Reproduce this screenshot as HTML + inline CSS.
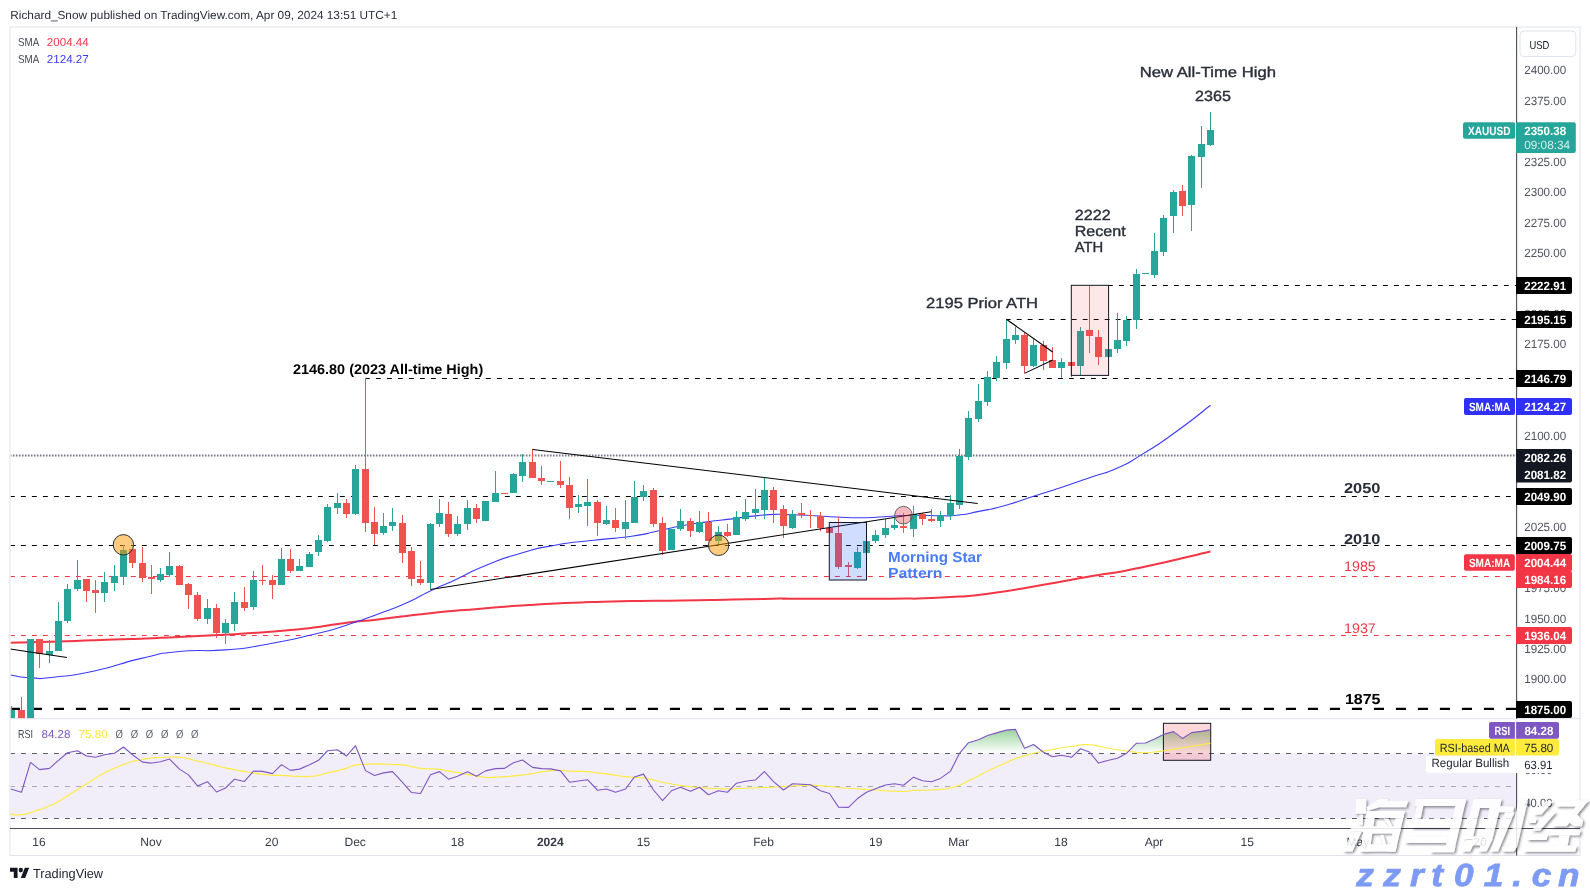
<!DOCTYPE html>
<html><head><meta charset="utf-8"><title>XAUUSD chart</title>
<style>
html,body{margin:0;padding:0;background:#fff;}
body{width:1590px;height:891px;overflow:hidden;font-family:"Liberation Sans", sans-serif;}
svg{display:block;position:absolute;left:0;top:0;font-family:"Liberation Sans", sans-serif;will-change:transform;}
text{text-rendering:geometricPrecision;}
</style></head><body>
<svg width="1590" height="891" viewBox="0 0 1590 891">
<rect x="0" y="0" width="1590" height="891" fill="#fff"/>
<defs>
<clipPath id="cm"><rect x="10.5" y="27.5" width="1505.5" height="691.0"/></clipPath>
<clipPath id="cr"><rect x="10.5" y="719" width="1505.5" height="109"/></clipPath>
<linearGradient id="gg" gradientUnits="userSpaceOnUse" x1="0" y1="712" x2="0" y2="753.5"><stop offset="0" stop-color="#4caf50" stop-opacity="0.95"/><stop offset="1" stop-color="#4caf50" stop-opacity="0"/></linearGradient>
<clipPath id="c70"><rect x="10.5" y="719" width="1505.5" height="34.5"/></clipPath>
</defs>
<g clip-path="url(#cr)">
<rect x="10.5" y="753.5" width="1505.5" height="65" fill="#7e57c2" fill-opacity="0.1"/>
<path d="M2.5 753.5 L2.5 786.98 L11.5 789.25 L21.5 792.26 L30.5 762.33 L39.5 769.62 L49.5 768.36 L58.5 760.31 L67.5 752.77 L77.5 750.75 L86.5 756.04 L95.5 757.3 L104.5 754.78 L114.5 753.27 L123.5 746.98 L132.5 754.78 L142.5 762.08 L151.5 763.08 L160.5 761.82 L169.5 759.06 L179.5 769.12 L188.5 774.91 L197.5 785.97 L207.5 781.7 L216.5 792.01 L225.5 787.99 L234.5 779.18 L244.5 781.45 L253.5 771.13 L262.5 771.38 L272.5 773.65 L281.5 764.59 L290.5 770.38 L299.5 769.12 L309.5 764.84 L318.5 760.31 L327.5 750.75 L337.5 749.75 L346.5 756.04 L355.5 745.72 L365.5 770.63 L374.5 775.41 L383.5 772.89 L392.5 771.64 L402.5 782.45 L411.5 792.52 L420.5 793.52 L430.5 774.65 L439.5 771.64 L448.5 779.18 L457.5 776.16 L467.5 771.64 L476.5 776.16 L485.5 770.88 L495.5 768.62 L504.5 768.36 L513.5 762.83 L522.5 760.06 L532.5 767.36 L541.5 768.62 L550.5 768.87 L560.5 770.88 L569.5 782.2 L578.5 780.94 L587.5 779.69 L597.5 790.25 L606.5 788.99 L615.5 792.26 L625.5 788.99 L634.5 776.92 L643.5 774.15 L653.5 790 L662.5 800.57 L671.5 790.75 L680.5 787.23 L690.5 791.26 L699.5 787.23 L708.5 794.78 L718.5 790.75 L727.5 792.26 L736.5 783.21 L745.5 781.19 L755.5 779.94 L764.5 771.64 L773.5 781.7 L783.5 790 L792.5 783.71 L801.5 784.21 L810.5 784.72 L820.5 790.75 L829.5 793.52 L838.5 807.11 L848.5 807.36 L857.5 798.55 L866.5 792.26 L875.5 788.74 L885.5 784.97 L894.5 783.71 L903.5 785.22 L913.5 777.17 L922.5 780.69 L931.5 781.7 L940.5 778.43 L950.5 771.13 L959.5 753.27 L968.5 742.7 L978.5 739.69 L987.5 735.41 L996.5 732.89 L1006.5 730.13 L1015.5 729.37 L1024.5 748.24 L1033.5 744.47 L1043.5 752.26 L1052.5 756.79 L1061.5 755.28 L1071.5 757.3 L1080.5 748.74 L1089.5 752.01 L1098.5 763.08 L1108.5 760.31 L1117.5 758.3 L1126.5 753.27 L1136.5 743.21 L1145.5 742.96 L1154.5 738.93 L1163.5 734.4 L1173.5 731.64 L1182.5 738.43 L1191.5 732.64 L1201.5 731.38 L1210.5 729.87 L1210.5 753.5 Z" fill="url(#gg)" clip-path="url(#c70)"/>
<line x1="10.5" y1="753.5" x2="1516.0" y2="753.5" stroke="#5a5e6a" stroke-width="1.1" stroke-dasharray="4.9 6.1" stroke-dashoffset="0.5"/>
<line x1="10.5" y1="786.5" x2="1516.0" y2="786.5" stroke="#a9acb6" stroke-width="1.1" stroke-dasharray="4.9 6.1" stroke-dashoffset="0.5"/>
<line x1="10.5" y1="818.5" x2="1516.0" y2="818.5" stroke="#5a5e6a" stroke-width="1.1" stroke-dasharray="4.9 6.1" stroke-dashoffset="0.5"/>
<rect x="1163.4" y="723.3" width="47.3" height="37" fill="#f23645" fill-opacity="0.2" stroke="#131722" stroke-width="1"/>
<path d="M10.06 813.9 C13.58 814.23 14 815.32 20.63 814.91 C27.25 814.49 23.82 814.32 29.94 812.64 C36.06 810.96 32.79 811.97 38.99 809.87 C45.2 807.78 42.26 809.04 48.55 806.35 C54.84 803.67 51.82 805.18 57.86 801.82 C63.9 798.47 60.38 800.23 66.67 796.29 C72.96 792.35 70.27 794.03 76.73 790 C83.19 785.97 79.92 788.07 86.04 784.21 C92.16 780.36 88.97 782.2 95.09 778.43 C101.22 774.65 98.2 776.16 104.4 772.89 C110.61 769.62 107.51 771.3 113.71 768.62 C119.92 765.93 116.9 767.19 123.02 764.84 C129.14 762.49 125.95 763.25 132.08 761.57 C138.2 759.9 135.09 760.99 141.38 759.81 C147.67 758.64 144.74 758.81 150.94 758.05 C157.15 757.3 153.88 757.88 160 757.55 C166.12 757.21 163.1 757.13 169.31 757.04 C175.51 756.96 172.41 756.79 178.62 757.3 C184.82 757.8 181.72 757.3 187.92 758.55 C194.13 759.81 191.03 759.56 197.23 761.07 C203.44 762.58 200.34 761.57 206.54 763.08 C212.75 764.59 209.64 764 215.85 765.6 C222.05 767.19 218.95 766.52 225.16 767.86 C231.36 769.2 228.34 768.45 234.47 769.62 C240.59 770.8 237.4 770.29 243.52 771.38 C249.64 772.47 246.62 771.97 252.83 772.89 C259.04 773.82 255.85 773.4 262.14 774.15 C268.43 774.91 265.41 774.74 271.7 775.16 C277.99 775.58 274.88 775.16 281.01 775.41 C287.13 775.66 283.94 775.58 290.06 775.91 C296.18 776.25 293.17 776.25 299.37 776.42 C305.58 776.58 302.47 776.75 308.68 776.42 C314.88 776.08 311.78 776.58 317.99 775.41 C324.19 774.23 321.09 774.4 327.3 772.89 C333.5 771.38 330.4 772.39 336.6 770.88 C342.81 769.37 339.71 770.29 345.91 768.36 C352.12 766.44 349.01 766.44 355.22 765.09 C361.43 763.75 358.32 764.76 364.53 764.34 C370.73 763.92 368.68 763.92 373.84 763.84 C378.99 763.75 370.57 763.75 380 764.09 C389.43 764.42 391.66 764 402.14 764.84 C412.62 765.68 405.24 765.43 411.45 766.6 C417.65 767.78 414.55 767.61 420.75 768.36 C426.96 769.12 423.86 768.53 430.06 768.87 C436.27 769.2 433.17 768.62 439.37 769.37 C445.58 770.13 442.47 770.04 448.68 771.13 C454.88 772.22 451.78 771.55 457.99 772.64 C464.19 773.73 461.09 773.31 467.3 774.4 C473.5 775.49 470.48 774.91 476.6 775.91 C482.73 776.92 479.54 777 485.66 777.42 C491.78 777.84 488.76 777.42 494.97 777.17 C501.17 776.92 498.07 777.09 504.28 776.67 C510.48 776.25 507.38 776.5 513.58 775.91 C519.79 775.32 516.69 775.66 522.89 774.91 C529.1 774.15 526 774.65 532.2 773.65 C538.41 772.64 535.3 772.89 541.51 771.89 C547.71 770.88 544.61 771.13 550.82 770.63 C557.02 770.13 553.92 770.21 560.13 770.38 C566.33 770.55 563.23 770.8 569.43 771.13 C575.64 771.47 572.54 771.22 578.74 771.38 C584.95 771.55 581.84 771.13 588.05 771.64 C594.26 772.14 591.15 772.14 597.36 772.89 C603.56 773.65 600.46 773.06 606.67 773.9 C612.87 774.74 609.77 774.49 615.97 775.41 C622.18 776.33 619.08 776 625.28 776.67 C631.49 777.34 628.47 777 634.59 777.42 C640.71 777.84 637.53 777.09 643.65 777.92 C649.77 778.76 646.75 778.51 652.96 779.94 C659.16 781.36 656.06 780.86 662.26 782.2 C668.47 783.54 665.37 782.87 671.57 783.96 C677.78 785.05 674.68 784.55 680.88 785.47 C687.09 786.39 683.98 786.06 690.19 786.73 C696.39 787.4 693.29 786.98 699.5 787.48 C705.7 787.99 702.6 787.82 708.81 788.24 C715.01 788.66 711.91 788.49 718.11 788.74 C724.32 788.99 721.22 788.99 727.42 788.99 C733.63 788.99 730.52 788.99 736.73 788.74 C742.94 788.49 739.92 788.57 746.04 788.24 C752.16 787.9 748.97 787.99 755.09 787.74 C761.22 787.48 758.2 787.65 764.4 787.48 C770.61 787.32 770.57 787.32 773.71 787.23 C776.86 787.15 770.69 787.48 773.84 787.23 C776.98 786.98 776.94 786.9 783.14 786.48 C789.35 786.06 786.25 786.31 792.45 785.97 C798.66 785.64 795.56 785.72 801.76 785.47 C807.97 785.22 804.86 785.14 811.07 785.22 C817.27 785.3 814.17 785.3 820.38 785.72 C826.58 786.14 823.48 785.89 829.69 786.48 C835.89 787.06 832.79 786.9 838.99 787.48 C845.2 788.07 842.18 787.82 848.3 788.24 C854.42 788.66 851.24 788.32 857.36 788.74 C863.48 789.16 860.46 789.08 866.67 789.5 C872.87 789.92 869.77 789.58 875.97 790 C882.18 790.42 879.08 790.34 885.28 790.75 C891.49 791.17 888.39 791.01 894.59 791.26 C900.8 791.51 897.69 791.76 903.9 791.51 C910.1 791.26 907 790.92 913.21 790.5 C919.41 790.08 916.31 790.5 922.52 790.25 C928.72 790 925.62 790.08 931.82 789.75 C938.03 789.41 934.93 789.83 941.13 789.25 C947.34 788.66 944.23 789.41 950.44 787.99 C956.65 786.56 953.54 787.48 959.75 784.97 C965.95 782.45 962.85 783.46 969.06 780.44 C975.26 777.42 972.24 779.01 978.36 775.91 C984.49 772.81 981.3 774.15 987.42 771.13 C993.54 768.11 990.52 769.62 996.73 766.86 C1002.94 764.09 999.83 765.6 1006.04 762.83 C1012.24 760.06 1009.14 760.9 1015.35 758.55 C1021.55 756.21 1018.45 757.55 1024.65 755.79 C1030.86 754.03 1027.76 754.78 1033.96 753.27 C1040.17 751.76 1037.06 752.52 1043.27 751.26 C1049.48 750 1046.37 750.67 1052.58 749.5 C1058.78 748.32 1055.68 748.74 1061.89 747.74 C1068.09 746.73 1064.99 747.4 1071.19 746.48 C1077.4 745.56 1074.3 745.56 1080.5 744.97 C1086.71 744.38 1083.61 744.3 1089.81 744.72 C1096.02 745.14 1092.96 745.05 1099.12 746.23 C1105.28 747.4 1102.14 747.06 1108.3 748.24 C1114.47 749.41 1111.4 748.83 1117.61 749.75 C1123.82 750.67 1120.71 750.17 1126.92 751.01 C1133.12 751.84 1130.02 751.68 1136.23 752.26 C1142.43 752.85 1139.33 752.85 1145.53 752.77 C1151.74 752.68 1148.64 752.68 1154.84 752.01 C1161.05 751.34 1157.95 751.68 1164.15 750.75 C1170.36 749.83 1167.25 750.25 1173.46 749.25 C1179.66 748.24 1176.56 748.74 1182.77 747.74 C1188.97 746.73 1185.95 747.23 1192.08 746.23 C1198.2 745.22 1195.01 745.72 1201.13 744.72 C1207.25 743.71 1207.34 743.71 1210.44 743.21" fill="none" stroke="#ffeb3b" stroke-width="1.1" stroke-linejoin="round"/>
<path d="M2.5 786.98 L11.5 789.25 L21.5 792.26 L30.5 762.33 L39.5 769.62 L49.5 768.36 L58.5 760.31 L67.5 752.77 L77.5 750.75 L86.5 756.04 L95.5 757.3 L104.5 754.78 L114.5 753.27 L123.5 746.98 L132.5 754.78 L142.5 762.08 L151.5 763.08 L160.5 761.82 L169.5 759.06 L179.5 769.12 L188.5 774.91 L197.5 785.97 L207.5 781.7 L216.5 792.01 L225.5 787.99 L234.5 779.18 L244.5 781.45 L253.5 771.13 L262.5 771.38 L272.5 773.65 L281.5 764.59 L290.5 770.38 L299.5 769.12 L309.5 764.84 L318.5 760.31 L327.5 750.75 L337.5 749.75 L346.5 756.04 L355.5 745.72 L365.5 770.63 L374.5 775.41 L383.5 772.89 L392.5 771.64 L402.5 782.45 L411.5 792.52 L420.5 793.52 L430.5 774.65 L439.5 771.64 L448.5 779.18 L457.5 776.16 L467.5 771.64 L476.5 776.16 L485.5 770.88 L495.5 768.62 L504.5 768.36 L513.5 762.83 L522.5 760.06 L532.5 767.36 L541.5 768.62 L550.5 768.87 L560.5 770.88 L569.5 782.2 L578.5 780.94 L587.5 779.69 L597.5 790.25 L606.5 788.99 L615.5 792.26 L625.5 788.99 L634.5 776.92 L643.5 774.15 L653.5 790 L662.5 800.57 L671.5 790.75 L680.5 787.23 L690.5 791.26 L699.5 787.23 L708.5 794.78 L718.5 790.75 L727.5 792.26 L736.5 783.21 L745.5 781.19 L755.5 779.94 L764.5 771.64 L773.5 781.7 L783.5 790 L792.5 783.71 L801.5 784.21 L810.5 784.72 L820.5 790.75 L829.5 793.52 L838.5 807.11 L848.5 807.36 L857.5 798.55 L866.5 792.26 L875.5 788.74 L885.5 784.97 L894.5 783.71 L903.5 785.22 L913.5 777.17 L922.5 780.69 L931.5 781.7 L940.5 778.43 L950.5 771.13 L959.5 753.27 L968.5 742.7 L978.5 739.69 L987.5 735.41 L996.5 732.89 L1006.5 730.13 L1015.5 729.37 L1024.5 748.24 L1033.5 744.47 L1043.5 752.26 L1052.5 756.79 L1061.5 755.28 L1071.5 757.3 L1080.5 748.74 L1089.5 752.01 L1098.5 763.08 L1108.5 760.31 L1117.5 758.3 L1126.5 753.27 L1136.5 743.21 L1145.5 742.96 L1154.5 738.93 L1163.5 734.4 L1173.5 731.64 L1182.5 738.43 L1191.5 732.64 L1201.5 731.38 L1210.5 729.87" fill="none" stroke="#7e57c2" stroke-width="1.1" stroke-linejoin="round"/>
</g>
<g clip-path="url(#cm)">
<line x1="10.5" y1="455.5" x2="1516" y2="455.5" stroke="#787b86" stroke-width="1.8" stroke-dasharray="1.6 1.4" stroke-dashoffset="0.6"/>
<line x1="10.5" y1="496.5" x2="1516" y2="496.5" stroke="#000" stroke-width="1.1" stroke-dasharray="4.9 6.1" stroke-dashoffset="0.6"/>
<line x1="10.5" y1="545.5" x2="1516" y2="545.5" stroke="#000" stroke-width="1.1" stroke-dasharray="4.9 6.1" stroke-dashoffset="0.6"/>
<line x1="10.5" y1="576.5" x2="1516" y2="576.5" stroke="#f23645" stroke-width="1.1" stroke-dasharray="4.9 6.1" stroke-dashoffset="0.6"/>
<line x1="10.5" y1="635.5" x2="1516" y2="635.5" stroke="#f23645" stroke-width="1.1" stroke-dasharray="4.9 6.1" stroke-dashoffset="0.6"/>
<line x1="10.5" y1="708.8" x2="1516" y2="708.8" stroke="#000" stroke-width="2.2" stroke-dasharray="10.1 11.9" stroke-dashoffset="0.6"/>
<line x1="365.5" y1="378.5" x2="1516" y2="378.5" stroke="#000" stroke-width="1.1" stroke-dasharray="4.9 6.1" stroke-dashoffset="0.6"/>
<line x1="1006.3" y1="319.5" x2="1516" y2="319.5" stroke="#000" stroke-width="1.1" stroke-dasharray="4.9 6.1" stroke-dashoffset="0.6"/>
<line x1="1108.5" y1="285.5" x2="1516" y2="285.5" stroke="#000" stroke-width="1.1" stroke-dasharray="4.9 6.1" stroke-dashoffset="0.6"/>
<path d="M10.4 642.7 C38.37 641.87 34.93 642.3 94.3 640.2 C153.67 638.1 125.67 639.57 188.5 636.4 C251.33 633.23 230.43 635.2 282.8 630.7 C335.17 626.2 313.2 626.73 345.6 622.9 C378 619.07 351.77 622.43 380 619.2 C408.23 615.97 396.77 616.7 430.3 613.2 C463.83 609.7 447.07 611.47 480.6 608.7 C514.13 605.93 497.33 607 530.9 604.9 C564.47 602.8 547.73 603.67 581.3 602.4 C614.87 601.13 598.07 601.7 631.6 601.1 C665.13 600.5 648.37 601.1 681.9 600.6 C715.43 600.1 699.5 600.27 732.2 599.6 C764.9 598.93 760.63 598.9 780 598.6 C799.37 598.3 770.1 598.67 790.3 598.7 C810.5 598.73 807.03 598.7 840.6 598.7 C874.17 598.7 857.43 599.1 891 598.7 C924.57 598.3 907.77 599.33 941.3 597.5 C974.83 595.67 958.07 597.4 991.6 593.2 C1025.13 589 1008.37 590.6 1041.9 584.9 C1075.43 579.2 1059.5 581.8 1092.2 576.1 C1124.9 570.4 1100.57 576 1140 567.8 C1179.43 559.6 1187 556.93 1210.5 551.5" fill="none" stroke="#f23645" stroke-width="2" stroke-linejoin="round"/>
<path d="M10.4 675 C17.4 675.97 17.07 677.17 31.4 677.9 C45.73 678.63 32.43 679.5 53.4 677.2 C74.37 674.9 64.97 677.27 94.3 671 C123.63 664.73 113.13 664.9 141.4 658.4 C169.67 651.9 151.13 654.33 179.1 651.5 C207.07 648.67 195.97 652.33 225.3 649.9 C254.63 647.47 237.47 649.43 267.1 644.2 C296.73 638.97 288.03 640.47 314.2 634.2 C340.37 627.93 324.67 632 345.6 625.4 C366.53 618.8 357.13 621.67 377 614.4 C396.87 607.13 387.43 611.4 405.2 603.6 C422.97 595.8 413.53 598.97 430.3 591 C447.07 583.03 437.03 588.23 455.5 579.7 C473.97 571.17 463.9 574.2 485.7 565.4 C507.5 556.6 497.43 560.1 520.9 553.3 C544.37 546.5 531.8 549.33 556.1 545 C580.4 540.67 568.63 543.23 593.8 540.3 C618.97 537.37 610.63 539.23 631.6 536.2 C652.57 533.17 639.93 534.7 656.7 531.2 C673.47 527.7 665.13 528.8 681.9 525.7 C698.67 522.6 690.23 524.17 707 521.9 C723.77 519.63 715.4 521 732.2 518.9 C749 516.8 741.47 517.13 757.4 515.6 C773.33 514.07 769.03 514.6 780 514.3 C790.97 514 778.47 514.23 790.3 514.7 C802.13 515.17 798.73 514.87 815.5 515.7 C832.27 516.53 823.83 516.53 840.6 517.2 C857.37 517.87 849 518.03 865.8 517.7 C882.6 517.37 874.23 517.03 891 516.2 C907.77 515.37 899.33 515.37 916.1 515.2 C932.87 515.03 927.03 515.77 941.3 515.7 C955.57 515.63 946.33 516.43 958.9 515 C971.47 513.57 963.9 514.5 979 511.4 C994.1 508.3 985.77 510.8 1004.2 505.7 C1022.63 500.6 1013.37 502.83 1034.3 496.1 C1055.23 489.37 1047.7 491.97 1067 485.5 C1086.3 479.03 1075.4 482.57 1092.2 476.7 C1109 470.83 1100.53 475.5 1117.4 467.9 C1134.27 460.3 1123.03 466.1 1142.8 453.9 C1162.57 441.7 1154.13 447.5 1176.7 431.3 C1199.27 415.1 1199.23 413.97 1210.5 405.3" fill="none" stroke="#3a3aff" stroke-width="1.1" stroke-linejoin="round"/>
<path d="M11 706h1V731h-1Z M8 710h7V731h-7Z" fill="#26a69a"/>
<path d="M21 697h1V731h-1Z M18 710h7V731h-7Z" fill="#ef5350"/>
<path d="M30 639h1V731h-1Z M27 639h7V731h-7Z" fill="#26a69a"/>
<path d="M39 639h1V668h-1Z M36 639h7V654h-7Z" fill="#ef5350"/>
<path d="M49 640h1V663h-1Z M46 651h7V655h-7Z" fill="#26a69a"/>
<path d="M58 602h1V651h-1Z M55 621h7V651h-7Z" fill="#26a69a"/>
<path d="M67 584h1V623h-1Z M64 589h7V621h-7Z" fill="#26a69a"/>
<path d="M77 560h1V591h-1Z M74 580h7V589h-7Z" fill="#26a69a"/>
<path d="M86 579h1V602h-1Z M83 579h7V591h-7Z" fill="#ef5350"/>
<path d="M95 580h1V613h-1Z M92 590h7V593h-7Z" fill="#ef5350"/>
<path d="M104 572h1V602h-1Z M101 582h7V593h-7Z" fill="#26a69a"/>
<path d="M114 565h1V591h-1Z M111 576h7V583h-7Z" fill="#26a69a"/>
<path d="M123 545h1V585h-1Z M120 550h7V577h-7Z" fill="#26a69a"/>
<path d="M132 549h1V568h-1Z M129 549h7V563h-7Z" fill="#ef5350"/>
<path d="M142 547h1V582h-1Z M139 563h7V578h-7Z" fill="#ef5350"/>
<path d="M151 565h1V594h-1Z M148 577h7V579h-7Z" fill="#ef5350"/>
<path d="M160 568h1V582h-1Z M157 574h7V580h-7Z" fill="#26a69a"/>
<path d="M169 552h1V577h-1Z M166 566h7V575h-7Z" fill="#26a69a"/>
<path d="M179 565h1V585h-1Z M176 566h7V585h-7Z" fill="#ef5350"/>
<path d="M188 583h1V609h-1Z M185 584h7V595h-7Z" fill="#ef5350"/>
<path d="M197 592h1V621h-1Z M194 595h7V619h-7Z" fill="#ef5350"/>
<path d="M207 599h1V624h-1Z M204 608h7V619h-7Z" fill="#26a69a"/>
<path d="M216 604h1V638h-1Z M213 608h7V633h-7Z" fill="#ef5350"/>
<path d="M225 619h1V644h-1Z M222 623h7V633h-7Z" fill="#26a69a"/>
<path d="M234 592h1V631h-1Z M231 602h7V624h-7Z" fill="#26a69a"/>
<path d="M244 587h1V611h-1Z M241 602h7V608h-7Z" fill="#ef5350"/>
<path d="M253 571h1V610h-1Z M250 580h7V607h-7Z" fill="#26a69a"/>
<path d="M262 565h1V585h-1Z M259 580h7V581h-7Z" fill="#ef5350"/>
<path d="M272 575h1V599h-1Z M269 580h7V585h-7Z" fill="#ef5350"/>
<path d="M281 548h1V585h-1Z M278 559h7V585h-7Z" fill="#26a69a"/>
<path d="M290 549h1V573h-1Z M287 559h7V571h-7Z" fill="#ef5350"/>
<path d="M299 559h1V571h-1Z M296 566h7V571h-7Z" fill="#26a69a"/>
<path d="M309 552h1V567h-1Z M306 554h7V567h-7Z" fill="#26a69a"/>
<path d="M318 535h1V556h-1Z M315 540h7V552h-7Z" fill="#26a69a"/>
<path d="M327 504h1V542h-1Z M324 507h7V541h-7Z" fill="#26a69a"/>
<path d="M337 493h1V514h-1Z M334 503h7V508h-7Z" fill="#26a69a"/>
<path d="M346 499h1V518h-1Z M343 503h7V514h-7Z" fill="#ef5350"/>
<path d="M355 465h1V515h-1Z M352 469h7V514h-7Z" fill="#26a69a"/>
<path d="M365 378h1V532h-1Z M362 469h7V523h-7Z" fill="#ef5350"/>
<path d="M374 507h1V545h-1Z M371 522h7V534h-7Z" fill="#ef5350"/>
<path d="M383 513h1V535h-1Z M380 526h7V533h-7Z" fill="#26a69a"/>
<path d="M392 508h1V531h-1Z M389 522h7V526h-7Z" fill="#26a69a"/>
<path d="M402 515h1V563h-1Z M399 523h7V553h-7Z" fill="#ef5350"/>
<path d="M411 547h1V586h-1Z M408 551h7V579h-7Z" fill="#ef5350"/>
<path d="M420 561h1V585h-1Z M417 579h7V583h-7Z" fill="#ef5350"/>
<path d="M430 523h1V589h-1Z M427 524h7V583h-7Z" fill="#26a69a"/>
<path d="M439 499h1V527h-1Z M436 513h7V524h-7Z" fill="#26a69a"/>
<path d="M448 502h1V537h-1Z M445 514h7V534h-7Z" fill="#ef5350"/>
<path d="M457 516h1V536h-1Z M454 524h7V534h-7Z" fill="#26a69a"/>
<path d="M467 500h1V530h-1Z M464 508h7V524h-7Z" fill="#26a69a"/>
<path d="M476 504h1V523h-1Z M473 508h7V519h-7Z" fill="#ef5350"/>
<path d="M485 501h1V521h-1Z M482 501h7V521h-7Z" fill="#26a69a"/>
<path d="M495 471h1V502h-1Z M492 493h7V502h-7Z" fill="#26a69a"/>
<path d="M504 493h1V494h-1Z M501 493h7V494h-7Z" fill="#ef5350"/>
<path d="M513 473h1V493h-1Z M510 474h7V493h-7Z" fill="#26a69a"/>
<path d="M522 454h1V482h-1Z M519 462h7V476h-7Z" fill="#26a69a"/>
<path d="M532 449h1V478h-1Z M529 462h7V478h-7Z" fill="#ef5350"/>
<path d="M541 466h1V485h-1Z M538 478h7V481h-7Z" fill="#ef5350"/>
<path d="M550 481h1V482h-1Z M547 481h7V482h-7Z" fill="#26a69a"/>
<path d="M560 461h1V488h-1Z M557 481h7V485h-7Z" fill="#ef5350"/>
<path d="M569 477h1V519h-1Z M566 485h7V508h-7Z" fill="#ef5350"/>
<path d="M578 495h1V513h-1Z M575 504h7V507h-7Z" fill="#26a69a"/>
<path d="M587 479h1V526h-1Z M584 502h7V506h-7Z" fill="#26a69a"/>
<path d="M597 500h1V536h-1Z M594 502h7V523h-7Z" fill="#ef5350"/>
<path d="M606 506h1V525h-1Z M603 520h7V524h-7Z" fill="#26a69a"/>
<path d="M615 508h1V532h-1Z M612 520h7V528h-7Z" fill="#ef5350"/>
<path d="M625 500h1V539h-1Z M622 522h7V529h-7Z" fill="#26a69a"/>
<path d="M634 481h1V523h-1Z M631 497h7V523h-7Z" fill="#26a69a"/>
<path d="M643 485h1V501h-1Z M640 491h7V497h-7Z" fill="#26a69a"/>
<path d="M653 488h1V527h-1Z M650 490h7V524h-7Z" fill="#ef5350"/>
<path d="M662 517h1V555h-1Z M659 523h7V551h-7Z" fill="#ef5350"/>
<path d="M671 529h1V550h-1Z M668 529h7V550h-7Z" fill="#26a69a"/>
<path d="M680 509h1V531h-1Z M677 521h7V529h-7Z" fill="#26a69a"/>
<path d="M690 518h1V537h-1Z M687 521h7V531h-7Z" fill="#ef5350"/>
<path d="M699 511h1V533h-1Z M696 522h7V532h-7Z" fill="#26a69a"/>
<path d="M708 512h1V541h-1Z M705 522h7V541h-7Z" fill="#ef5350"/>
<path d="M718 526h1V546h-1Z M715 532h7V541h-7Z" fill="#26a69a"/>
<path d="M727 524h1V537h-1Z M724 532h7V536h-7Z" fill="#ef5350"/>
<path d="M736 511h1V535h-1Z M733 517h7V535h-7Z" fill="#26a69a"/>
<path d="M745 499h1V521h-1Z M742 512h7V519h-7Z" fill="#26a69a"/>
<path d="M755 489h1V519h-1Z M752 509h7V513h-7Z" fill="#26a69a"/>
<path d="M764 478h1V519h-1Z M761 490h7V510h-7Z" fill="#26a69a"/>
<path d="M773 487h1V523h-1Z M770 490h7V510h-7Z" fill="#ef5350"/>
<path d="M783 505h1V538h-1Z M780 509h7V526h-7Z" fill="#ef5350"/>
<path d="M792 510h1V529h-1Z M789 514h7V528h-7Z" fill="#26a69a"/>
<path d="M801 503h1V518h-1Z M798 513h7V515h-7Z" fill="#ef5350"/>
<path d="M810 510h1V528h-1Z M807 515h7V516h-7Z" fill="#ef5350"/>
<path d="M820 512h1V531h-1Z M817 516h7V528h-7Z" fill="#ef5350"/>
<path d="M829 528h1V533h-1Z M826 528h7V533h-7Z" fill="#ef5350"/>
<path d="M838 517h1V569h-1Z M835 533h7V567h-7Z" fill="#ef5350"/>
<path d="M848 562h1V576h-1Z M845 565h7V567h-7Z" fill="#ef5350"/>
<path d="M857 547h1V569h-1Z M854 552h7V568h-7Z" fill="#26a69a"/>
<path d="M866 541h1V553h-1Z M863 541h7V553h-7Z" fill="#26a69a"/>
<path d="M875 530h1V543h-1Z M872 535h7V541h-7Z" fill="#26a69a"/>
<path d="M885 519h1V538h-1Z M882 528h7V535h-7Z" fill="#26a69a"/>
<path d="M894 518h1V530h-1Z M891 525h7V528h-7Z" fill="#26a69a"/>
<path d="M903 513h1V533h-1Z M900 526h7V528h-7Z" fill="#ef5350"/>
<path d="M913 506h1V537h-1Z M910 514h7V529h-7Z" fill="#26a69a"/>
<path d="M922 513h1V525h-1Z M919 514h7V519h-7Z" fill="#ef5350"/>
<path d="M931 509h1V522h-1Z M928 519h7V521h-7Z" fill="#ef5350"/>
<path d="M940 511h1V527h-1Z M937 515h7V521h-7Z" fill="#26a69a"/>
<path d="M950 495h1V520h-1Z M947 503h7V516h-7Z" fill="#26a69a"/>
<path d="M959 449h1V509h-1Z M956 456h7V505h-7Z" fill="#26a69a"/>
<path d="M968 411h1V460h-1Z M965 418h7V457h-7Z" fill="#26a69a"/>
<path d="M978 384h1V422h-1Z M975 401h7V419h-7Z" fill="#26a69a"/>
<path d="M987 371h1V406h-1Z M984 377h7V402h-7Z" fill="#26a69a"/>
<path d="M996 356h1V381h-1Z M993 362h7V378h-7Z" fill="#26a69a"/>
<path d="M1006 319h1V369h-1Z M1003 339h7V363h-7Z" fill="#26a69a"/>
<path d="M1015 327h1V344h-1Z M1012 335h7V340h-7Z" fill="#26a69a"/>
<path d="M1024 333h1V373h-1Z M1021 335h7V366h-7Z" fill="#ef5350"/>
<path d="M1033 339h1V367h-1Z M1030 345h7V366h-7Z" fill="#26a69a"/>
<path d="M1043 341h1V370h-1Z M1040 345h7V361h-7Z" fill="#ef5350"/>
<path d="M1052 347h1V368h-1Z M1049 360h7V368h-7Z" fill="#ef5350"/>
<path d="M1061 358h1V378h-1Z M1058 362h7V368h-7Z" fill="#26a69a"/>
<path d="M1071 362h1V377h-1Z M1068 362h7V366h-7Z" fill="#ef5350"/>
<path d="M1080 327h1V375h-1Z M1077 331h7V366h-7Z" fill="#26a69a"/>
<path d="M1089 286h1V353h-1Z M1086 330h7V336h-7Z" fill="#ef5350"/>
<path d="M1098 330h1V365h-1Z M1095 337h7V357h-7Z" fill="#ef5350"/>
<path d="M1108 349h1V357h-1Z M1105 349h7V357h-7Z" fill="#26a69a"/>
<path d="M1117 313h1V353h-1Z M1114 340h7V349h-7Z" fill="#26a69a"/>
<path d="M1126 316h1V346h-1Z M1123 320h7V341h-7Z" fill="#26a69a"/>
<path d="M1136 269h1V329h-1Z M1133 274h7V320h-7Z" fill="#26a69a"/>
<path d="M1145 273h1V274h-1Z M1142 273h7V274h-7Z" fill="#26a69a"/>
<path d="M1154 233h1V278h-1Z M1151 251h7V275h-7Z" fill="#26a69a"/>
<path d="M1163 215h1V256h-1Z M1160 218h7V252h-7Z" fill="#26a69a"/>
<path d="M1173 190h1V233h-1Z M1170 192h7V216h-7Z" fill="#26a69a"/>
<path d="M1182 185h1V216h-1Z M1179 191h7V206h-7Z" fill="#ef5350"/>
<path d="M1191 155h1V231h-1Z M1188 156h7V205h-7Z" fill="#26a69a"/>
<path d="M1201 126h1V188h-1Z M1198 144h7V157h-7Z" fill="#26a69a"/>
<path d="M1210 112h1V146h-1Z M1207 130h7V145h-7Z" fill="#26a69a"/>
<line x1="532.5" y1="449.4" x2="977.7" y2="503.4" stroke="#000" stroke-width="1.05"/>
<line x1="430.3" y1="589.4" x2="931.2" y2="511.8" stroke="#000" stroke-width="1.05"/>
<line x1="10" y1="649" x2="67" y2="657.4" stroke="#000" stroke-width="1.05"/>
<line x1="1006.4" y1="319.3" x2="1052.7" y2="352" stroke="#000" stroke-width="1.05"/>
<line x1="1024.5" y1="373.4" x2="1052.7" y2="360" stroke="#000" stroke-width="1.05"/>
<rect x="829.3" y="522.5" width="37.2" height="57.5" fill="#2962ff" fill-opacity="0.22" stroke="#131722" stroke-width="1"/>
<rect x="1071.3" y="285.3" width="37.3" height="90.1" fill="#f23645" fill-opacity="0.12" stroke="#131722" stroke-width="1"/>
<circle cx="123.4" cy="544.8" r="10.2" fill="#ff9800" fill-opacity="0.5" stroke="#2a2e39" stroke-width="1"/>
<circle cx="718.6" cy="545.3" r="10.2" fill="#ff9800" fill-opacity="0.5" stroke="#2a2e39" stroke-width="1"/>
<circle cx="903.5" cy="515.2" r="8.8" fill="#f23645" fill-opacity="0.35" stroke="#5d606b" stroke-width="1"/>
<text x="293" y="374" font-size="14" fill="#000" font-weight="bold" textLength="190.2" lengthAdjust="spacingAndGlyphs" >2146.80 (2023 All-time High)</text>
<text x="926" y="307.7" font-size="14.6" fill="#2a2e39" stroke="#2a2e39" stroke-width="0.38" stroke-linejoin="round" textLength="112" lengthAdjust="spacingAndGlyphs" >2195 Prior ATH</text>
<text x="1139.8" y="76.8" font-size="14.6" fill="#2a2e39" stroke="#2a2e39" stroke-width="0.38" stroke-linejoin="round" textLength="136.1" lengthAdjust="spacingAndGlyphs" >New All-Time High</text>
<text x="1195" y="100.9" font-size="14.6" fill="#2a2e39" stroke="#2a2e39" stroke-width="0.38" stroke-linejoin="round" textLength="35.9" lengthAdjust="spacingAndGlyphs" >2365</text>
<text x="1074.7" y="220.2" font-size="14.6" fill="#2a2e39" stroke="#2a2e39" stroke-width="0.38" stroke-linejoin="round" textLength="36" lengthAdjust="spacingAndGlyphs" >2222</text>
<text x="1074.7" y="236.2" font-size="14.6" fill="#2a2e39" stroke="#2a2e39" stroke-width="0.38" stroke-linejoin="round" textLength="51" lengthAdjust="spacingAndGlyphs" >Recent</text>
<text x="1074.7" y="252.1" font-size="14.6" fill="#2a2e39" stroke="#2a2e39" stroke-width="0.38" stroke-linejoin="round" textLength="28.5" lengthAdjust="spacingAndGlyphs" >ATH</text>
<text x="888" y="561.8" font-size="14.6" fill="#4a7cfa" font-weight="bold" textLength="94" lengthAdjust="spacingAndGlyphs" >Morning Star</text>
<text x="888" y="577.8" font-size="14.6" fill="#4a7cfa" font-weight="bold" textLength="54.5" lengthAdjust="spacingAndGlyphs" >Pattern</text>
<text x="1344" y="493" font-size="14.5" fill="#2a2e39" font-weight="bold" textLength="36.5" lengthAdjust="spacingAndGlyphs" >2050</text>
<text x="1344" y="543.5" font-size="14.5" fill="#2a2e39" font-weight="bold" textLength="36.5" lengthAdjust="spacingAndGlyphs" >2010</text>
<text x="1344" y="571" font-size="14" fill="#f23645" textLength="31.8" lengthAdjust="spacingAndGlyphs" >1985</text>
<text x="1344" y="632.7" font-size="14" fill="#f23645" textLength="31.8" lengthAdjust="spacingAndGlyphs" >1937</text>
<text x="1344.9" y="703.7" font-size="14.5" fill="#000" font-weight="bold" textLength="35.6" lengthAdjust="spacingAndGlyphs" >1875</text>
</g>
<text x="18" y="45.5" font-size="11.5" fill="#434651" textLength="21.2" lengthAdjust="spacingAndGlyphs" >SMA</text>
<text x="46.8" y="45.5" font-size="11.5" fill="#f23645" textLength="41.9" lengthAdjust="spacingAndGlyphs" >2004.44</text>
<text x="18" y="62.5" font-size="11.5" fill="#434651" textLength="21.2" lengthAdjust="spacingAndGlyphs" >SMA</text>
<text x="46.8" y="62.5" font-size="11.5" fill="#3a3aff" textLength="41.9" lengthAdjust="spacingAndGlyphs" >2124.27</text>
<text x="18" y="737.6" font-size="11.5" fill="#434651" textLength="15" lengthAdjust="spacingAndGlyphs" >RSI</text>
<text x="41.5" y="737.6" font-size="11.5" fill="#7e57c2" textLength="28.9" lengthAdjust="spacingAndGlyphs" >84.28</text>
<text x="78.5" y="737.6" font-size="11.5" fill="#ffe838" textLength="29.2" lengthAdjust="spacingAndGlyphs" >75.80</text>
<text x="115.6" y="737.6" font-size="11.5" fill="#5d606b" textLength="7.4" lengthAdjust="spacingAndGlyphs" >&#216;</text>
<text x="130.7" y="737.6" font-size="11.5" fill="#5d606b" textLength="7.4" lengthAdjust="spacingAndGlyphs" >&#216;</text>
<text x="145.8" y="737.6" font-size="11.5" fill="#5d606b" textLength="7.4" lengthAdjust="spacingAndGlyphs" >&#216;</text>
<text x="160.9" y="737.6" font-size="11.5" fill="#5d606b" textLength="7.4" lengthAdjust="spacingAndGlyphs" >&#216;</text>
<text x="176" y="737.6" font-size="11.5" fill="#5d606b" textLength="7.4" lengthAdjust="spacingAndGlyphs" >&#216;</text>
<text x="191.1" y="737.6" font-size="11.5" fill="#5d606b" textLength="7.4" lengthAdjust="spacingAndGlyphs" >&#216;</text>
<text x="10.3" y="18.9" font-size="11.7" fill="#2a2e39" textLength="387" lengthAdjust="spacingAndGlyphs" >Richard_Snow published on TradingView.com, Apr 09, 2024 13:51 UTC+1</text>
<rect x="10" y="27" width="1570" height="828.5" fill="none" stroke="#e0e3eb" stroke-width="1"/>
<line x1="10" y1="718.7" x2="1580" y2="718.7" stroke="#e0e3eb" stroke-width="1"/>
<line x1="10" y1="828.5" x2="1580" y2="828.5" stroke="#4a4e59" stroke-width="1"/>
<line x1="1516.6" y1="27" x2="1516.6" y2="855.5" stroke="#4a4e59" stroke-width="1.1"/>
<text x="1524.2" y="683.45" font-size="12" fill="#50535e" textLength="42.1" lengthAdjust="spacingAndGlyphs" >1900.00</text>
<text x="1524.2" y="652.99" font-size="12" fill="#50535e" textLength="42.1" lengthAdjust="spacingAndGlyphs" >1925.00</text>
<text x="1524.2" y="622.52" font-size="12" fill="#50535e" textLength="42.1" lengthAdjust="spacingAndGlyphs" >1950.00</text>
<text x="1524.2" y="592.06" font-size="12" fill="#50535e" textLength="42.1" lengthAdjust="spacingAndGlyphs" >1975.00</text>
<text x="1524.2" y="561.6" font-size="12" fill="#50535e" textLength="42.1" lengthAdjust="spacingAndGlyphs" >2000.00</text>
<text x="1524.2" y="531.14" font-size="12" fill="#50535e" textLength="42.1" lengthAdjust="spacingAndGlyphs" >2025.00</text>
<text x="1524.2" y="500.68" font-size="12" fill="#50535e" textLength="42.1" lengthAdjust="spacingAndGlyphs" >2050.00</text>
<text x="1524.2" y="470.21" font-size="12" fill="#50535e" textLength="42.1" lengthAdjust="spacingAndGlyphs" >2075.00</text>
<text x="1524.2" y="439.75" font-size="12" fill="#50535e" textLength="42.1" lengthAdjust="spacingAndGlyphs" >2100.00</text>
<text x="1524.2" y="409.29" font-size="12" fill="#50535e" textLength="42.1" lengthAdjust="spacingAndGlyphs" >2125.00</text>
<text x="1524.2" y="378.82" font-size="12" fill="#50535e" textLength="42.1" lengthAdjust="spacingAndGlyphs" >2150.00</text>
<text x="1524.2" y="348.36" font-size="12" fill="#50535e" textLength="42.1" lengthAdjust="spacingAndGlyphs" >2175.00</text>
<text x="1524.2" y="317.9" font-size="12" fill="#50535e" textLength="42.1" lengthAdjust="spacingAndGlyphs" >2200.00</text>
<text x="1524.2" y="287.44" font-size="12" fill="#50535e" textLength="42.1" lengthAdjust="spacingAndGlyphs" >2225.00</text>
<text x="1524.2" y="256.97" font-size="12" fill="#50535e" textLength="42.1" lengthAdjust="spacingAndGlyphs" >2250.00</text>
<text x="1524.2" y="226.51" font-size="12" fill="#50535e" textLength="42.1" lengthAdjust="spacingAndGlyphs" >2275.00</text>
<text x="1524.2" y="196.05" font-size="12" fill="#50535e" textLength="42.1" lengthAdjust="spacingAndGlyphs" >2300.00</text>
<text x="1524.2" y="165.59" font-size="12" fill="#50535e" textLength="42.1" lengthAdjust="spacingAndGlyphs" >2325.00</text>
<text x="1524.2" y="135.12" font-size="12" fill="#50535e" textLength="42.1" lengthAdjust="spacingAndGlyphs" >2350.00</text>
<text x="1524.2" y="104.66" font-size="12" fill="#50535e" textLength="42.1" lengthAdjust="spacingAndGlyphs" >2375.00</text>
<text x="1524.2" y="74.2" font-size="12" fill="#50535e" textLength="42.1" lengthAdjust="spacingAndGlyphs" >2400.00</text>
<text x="1524.4" y="807.1" font-size="12" fill="#50535e" textLength="28" lengthAdjust="spacingAndGlyphs" >40.00</text>
<text x="1524.4" y="774.3" font-size="12" fill="#50535e" textLength="28" lengthAdjust="spacingAndGlyphs" >60.00</text>
<rect x="1520" y="31" width="55.8" height="25.6" rx="4" fill="#fff" stroke="#e0e3eb" stroke-width="1"/>
<text x="1529.4" y="49.2" font-size="11.5" fill="#131722" textLength="19.8" lengthAdjust="spacingAndGlyphs" >USD</text>
<path d="M1465 122.2 H1513.2 Q1515.2 122.2 1515.2 124.2 V136.7 Q1515.2 138.7 1513.2 138.7 H1465 Q1463 138.7 1463 136.7 V124.2 Q1463 122.2 1465 122.2 Z" fill="#26a69a"/>
<text x="1468" y="134.8" font-size="12" fill="#fff" font-weight="bold" textLength="42.5" lengthAdjust="spacingAndGlyphs" >XAUUSD</text>
<path d="M1516 122.2 H1573.8 Q1575.8 122.2 1575.8 124.2 V150.9 Q1575.8 152.9 1573.8 152.9 H1516 Q1516 152.9 1516 152.9 V122.2 Q1516 122.2 1516 122.2 Z" fill="#26a69a"/>
<text x="1524.2" y="134.8" font-size="12" fill="#fff" font-weight="bold" textLength="41.9" lengthAdjust="spacingAndGlyphs" >2350.38</text>
<text x="1524.2" y="148.9" font-size="12" fill="#d4edea" textLength="46" lengthAdjust="spacingAndGlyphs" >09:08:34</text>
<path d="M1516 277 H1570 Q1572 277 1572 279 V292 Q1572 294 1570 294 H1516 Q1516 294 1516 294 V277 Q1516 277 1516 277 Z" fill="#000"/>
<text x="1524.2" y="289.7" font-size="12" fill="#fff" font-weight="bold" textLength="41.9" lengthAdjust="spacingAndGlyphs" >2222.91</text>
<path d="M1516 311 H1570 Q1572 311 1572 313 V326 Q1572 328 1570 328 H1516 Q1516 328 1516 328 V311 Q1516 311 1516 311 Z" fill="#000"/>
<text x="1524.2" y="323.7" font-size="12" fill="#fff" font-weight="bold" textLength="41.9" lengthAdjust="spacingAndGlyphs" >2195.15</text>
<path d="M1516 370 H1570 Q1572 370 1572 372 V385 Q1572 387 1570 387 H1516 Q1516 387 1516 387 V370 Q1516 370 1516 370 Z" fill="#000"/>
<text x="1524.2" y="382.7" font-size="12" fill="#fff" font-weight="bold" textLength="41.9" lengthAdjust="spacingAndGlyphs" >2146.79</text>
<path d="M1466 398 H1513 Q1515 398 1515 400 V413 Q1515 415 1513 415 H1466 Q1464 415 1464 413 V400 Q1464 398 1466 398 Z" fill="#3030fc"/>
<text x="1468.9" y="410.7" font-size="12" fill="#fff" font-weight="bold" textLength="41.3" lengthAdjust="spacingAndGlyphs" >SMA:MA</text>
<path d="M1516 398 H1570 Q1572 398 1572 400 V413 Q1572 415 1570 415 H1516 Q1516 415 1516 415 V398 Q1516 398 1516 398 Z" fill="#3030fc"/>
<text x="1524.2" y="410.7" font-size="12" fill="#fff" font-weight="bold" textLength="41.9" lengthAdjust="spacingAndGlyphs" >2124.27</text>
<path d="M1516 449 H1570 Q1572 449 1572 451 V480.6 Q1572 482.6 1570 482.6 H1516 Q1516 482.6 1516 482.6 V449 Q1516 449 1516 449 Z" fill="#131722"/>
<text x="1524.2" y="461.8" font-size="12" fill="#fff" font-weight="bold" textLength="41.9" lengthAdjust="spacingAndGlyphs" >2082.26</text>
<text x="1524.2" y="478.6" font-size="12" fill="#fff" font-weight="bold" textLength="41.9" lengthAdjust="spacingAndGlyphs" >2081.82</text>
<path d="M1516 488 H1570 Q1572 488 1572 490 V503 Q1572 505 1570 505 H1516 Q1516 505 1516 505 V488 Q1516 488 1516 488 Z" fill="#000"/>
<text x="1524.2" y="500.7" font-size="12" fill="#fff" font-weight="bold" textLength="41.9" lengthAdjust="spacingAndGlyphs" >2049.90</text>
<path d="M1516 537 H1570 Q1572 537 1572 539 V552 Q1572 554 1570 554 H1516 Q1516 554 1516 554 V537 Q1516 537 1516 537 Z" fill="#000"/>
<text x="1524.2" y="549.7" font-size="12" fill="#fff" font-weight="bold" textLength="41.9" lengthAdjust="spacingAndGlyphs" >2009.75</text>
<path d="M1466 554.2 H1512.8 Q1514.8 554.2 1514.8 556.2 V568.8 Q1514.8 570.8 1512.8 570.8 H1466 Q1464 570.8 1464 568.8 V556.2 Q1464 554.2 1466 554.2 Z" fill="#f23645"/>
<text x="1468.9" y="567" font-size="12" fill="#fff" font-weight="bold" textLength="41.3" lengthAdjust="spacingAndGlyphs" >SMA:MA</text>
<path d="M1516 554 H1570 Q1572 554 1572 556 V569.5 Q1572 571.5 1570 571.5 H1516 Q1516 571.5 1516 571.5 V554 Q1516 554 1516 554 Z" fill="#f23645"/>
<text x="1524.2" y="566.95" font-size="12" fill="#fff" font-weight="bold" textLength="41.9" lengthAdjust="spacingAndGlyphs" >2004.44</text>
<path d="M1516 571 H1570 Q1572 571 1572 573 V586 Q1572 588 1570 588 H1516 Q1516 588 1516 588 V571 Q1516 571 1516 571 Z" fill="#f23645"/>
<text x="1524.2" y="583.7" font-size="12" fill="#fff" font-weight="bold" textLength="41.9" lengthAdjust="spacingAndGlyphs" >1984.16</text>
<path d="M1516 627 H1570 Q1572 627 1572 629 V642 Q1572 644 1570 644 H1516 Q1516 644 1516 644 V627 Q1516 627 1516 627 Z" fill="#f23645"/>
<text x="1524.2" y="639.7" font-size="12" fill="#fff" font-weight="bold" textLength="41.9" lengthAdjust="spacingAndGlyphs" >1936.04</text>
<path d="M1516 701 H1570 Q1572 701 1572 703 V716 Q1572 718 1570 718 H1516 Q1516 718 1516 718 V701 Q1516 701 1516 701 Z" fill="#000"/>
<text x="1524.2" y="713.7" font-size="12" fill="#fff" font-weight="bold" textLength="41.9" lengthAdjust="spacingAndGlyphs" >1875.00</text>
<rect x="1514.9" y="718.9" width="2.4" height="54.1" fill="#fff"/>
<path d="M1491 722 H1514.9 Q1514.9 722 1514.9 722 V738.8 Q1514.9 738.8 1514.9 738.8 H1491 Q1489 738.8 1489 736.8 V724 Q1489 722 1491 722 Z" fill="#7e57c2"/>
<text x="1494.5" y="734.8" font-size="12" fill="#fff" font-weight="bold" textLength="15.5" lengthAdjust="spacingAndGlyphs" >RSI</text>
<path d="M1516.1 722 H1557 Q1559 722 1559 724 V736.8 Q1559 738.8 1557 738.8 H1516.1 Q1516.1 738.8 1516.1 738.8 V722 Q1516.1 722 1516.1 722 Z" fill="#7e57c2"/>
<text x="1524.4" y="734.8" font-size="12" fill="#fff" font-weight="bold" textLength="29" lengthAdjust="spacingAndGlyphs" >84.28</text>
<path d="M1437 739.1 H1514.9 Q1514.9 739.1 1514.9 739.1 V755.6 Q1514.9 755.6 1514.9 755.6 H1437 Q1435 755.6 1435 753.6 V741.1 Q1435 739.1 1437 739.1 Z" fill="#ffeb3b"/>
<text x="1439.8" y="751.9" font-size="12" fill="#1c2030" textLength="70" lengthAdjust="spacingAndGlyphs" >RSI-based MA</text>
<path d="M1516.1 739.1 H1557 Q1559 739.1 1559 741.1 V753.6 Q1559 755.6 1557 755.6 H1516.1 Q1516.1 755.6 1516.1 755.6 V739.1 Q1516.1 739.1 1516.1 739.1 Z" fill="#ffeb3b"/>
<text x="1524.3" y="751.9" font-size="12" fill="#1c2030" textLength="29" lengthAdjust="spacingAndGlyphs" >75.80</text>
<path d="M1428 756.1 H1514.9 Q1514.9 756.1 1514.9 756.1 V773 Q1514.9 773 1514.9 773 H1428 Q1426 773 1426 771 V758.1 Q1426 756.1 1428 756.1 Z" fill="#fff"/>
<text x="1431.5" y="767.3" font-size="12" fill="#1c2030" textLength="77.8" lengthAdjust="spacingAndGlyphs" >Regular Bullish</text>
<path d="M1516.1 756.1 H1557 Q1559 756.1 1559 758.1 V771 Q1559 773 1557 773 H1516.1 Q1516.1 773 1516.1 773 V756.1 Q1516.1 756.1 1516.1 756.1 Z" fill="#fff"/>
<text x="1524.3" y="768.7" font-size="12" fill="#1c2030" textLength="28.3" lengthAdjust="spacingAndGlyphs" >63.91</text>
<text x="39" y="846" font-size="12" fill="#363a45" text-anchor="middle" >16</text>
<text x="151" y="846" font-size="12" fill="#363a45" text-anchor="middle" >Nov</text>
<text x="271.7" y="846" font-size="12" fill="#363a45" text-anchor="middle" >20</text>
<text x="355.2" y="846" font-size="12" fill="#363a45" text-anchor="middle" >Dec</text>
<text x="457.5" y="846" font-size="12" fill="#363a45" text-anchor="middle" >18</text>
<text x="550.3" y="846" font-size="12" fill="#363a45" font-weight="bold" text-anchor="middle" >2024</text>
<text x="643.4" y="846" font-size="12" fill="#363a45" text-anchor="middle" >15</text>
<text x="763.6" y="846" font-size="12" fill="#363a45" text-anchor="middle" >Feb</text>
<text x="875.7" y="846" font-size="12" fill="#363a45" text-anchor="middle" >19</text>
<text x="958.7" y="846" font-size="12" fill="#363a45" text-anchor="middle" >Mar</text>
<text x="1061" y="846" font-size="12" fill="#363a45" text-anchor="middle" >18</text>
<text x="1154" y="846" font-size="12" fill="#363a45" text-anchor="middle" >Apr</text>
<text x="1247.2" y="846" font-size="12" fill="#363a45" text-anchor="middle" >15</text>
<text x="1357.9" y="846" font-size="12" fill="#363a45" text-anchor="middle" >May</text>
<text x="1479.9" y="846" font-size="12" fill="#363a45" text-anchor="middle" >20</text>
<g transform="translate(10,865.6) scale(0.54,0.565)" fill="#131722"><path d="M14 22H7V11H0V4h14v18zM28 22h-8l7.5-18h8L28 22z"/><circle cx="20" cy="8" r="4"/></g>
<text x="32.9" y="878" font-size="13.2" fill="#1e222d" textLength="70.2" lengthAdjust="spacingAndGlyphs" >TradingView</text>
<filter id="ws" x="-5%" y="-10%" width="110%" height="125%"><feDropShadow dx="1.5" dy="1.5" stdDeviation="0.8" flood-color="#20232b" flood-opacity="0.6"/></filter>
<g opacity="0.85"><g filter="url(#ws)" fill="#fff">
<polygon points="1356.0,799.0 1366.2,799.0 1366.2,813.8 1355.6,813.8"/>
<polygon points="1379.3,799.0 1387.9,799.0 1387.6,800.8 1408.3,800.8 1406.2,807.3 1379.3,807.3 1367.5,810.9 1366.7,807.3"/>
<polygon points="1366.7,810.9 1404.8,810.9 1403.2,818.1 1366.7,818.1"/>
<polygon points="1366.7,810.9 1375.7,810.9 1369.6,851.5 1360.3,851.5"/>
<polygon points="1397.6,810.9 1404.8,810.9 1395.5,851.5 1388.3,851.5"/>
<polygon points="1350.6,826.7 1401.2,826.7 1399.6,833.4 1371.0,833.4 1361.7,831.4 1350.6,831.4"/>
<polygon points="1361.3,844.3 1397.1,844.3 1395.5,851.5 1360.3,851.5"/>
<polygon points="1384.0,818.4 1388.3,818.4 1392.6,826.7 1389.4,826.7"/>
<polygon points="1380.4,834.9 1383.3,834.9 1386.1,844.3 1383.3,844.3"/>
<polygon points="1359.6,814.8 1362.8,814.8 1362.8,824.9 1359.6,824.2"/>
<polygon points="1352.4,831.4 1361.7,831.4 1352.4,851.5 1343.0,851.5"/>
<polygon points="1415.6,799.0 1466.2,799.0 1464.7,805.9 1414.7,805.9"/>
<polygon points="1456.9,799.0 1466.2,799.0 1454.0,851.5 1444.7,851.5"/>
<polygon points="1416.8,805.9 1423.3,805.9 1420.6,818.8 1414.2,818.8"/>
<polygon points="1415.2,818.8 1461.9,818.8 1459.8,827.8 1411.3,827.8"/>
<polygon points="1406.6,836.4 1448.3,836.4 1446.9,842.9 1405.2,842.9"/>
<polygon points="1431.8,846.4 1455.5,846.4 1454.0,852.3 1430.3,852.3"/>
<polygon points="1473.6,799.0 1501.6,799.0 1499.8,808.0 1471.4,808.0"/>
<polygon points="1471.4,808.0 1479.9,808.0 1472.5,839.3 1463.9,839.3"/>
<polygon points="1489.5,808.0 1500.0,808.0 1492.2,840.0 1482.9,840.0"/>
<polygon points="1473.2,836.4 1483.6,836.4 1481.1,845.7 1470.7,845.7"/>
<polygon points="1466.4,840.0 1475.7,840.0 1470.0,851.5 1462.1,851.5"/>
<polygon points="1482.9,840.0 1492.2,840.0 1486.5,851.5 1478.6,851.5"/>
<polygon points="1498.0,806.2 1514.5,806.2 1513.1,812.3 1496.5,812.3"/>
<polygon points="1505.2,812.3 1514.5,812.3 1498.0,851.5 1490.1,851.5"/>
<polygon points="1518.8,799.0 1528.1,799.0 1517.0,847.2 1513.8,851.5 1502.3,851.5 1502.3,847.2 1508.8,847.2"/>
<polygon points="1545.8,801.2 1553.3,801.2 1541.5,814.5 1533.6,814.5"/>
<polygon points="1547.9,812.0 1556.2,812.0 1540.0,830.6 1531.8,830.6"/>
<polygon points="1529.2,818.4 1536.4,818.4 1535.7,823.1 1528.5,823.1"/>
<polygon points="1528.9,834.2 1547.9,834.2 1546.5,840.0 1527.4,840.0"/>
<polygon points="1558.0,801.2 1589.2,800.1 1577.0,814.8 1569.5,814.8 1575.9,806.6 1556.5,806.6"/>
<polygon points="1562.3,814.8 1577.0,814.8 1583.1,820.6 1582.0,826.3 1574.5,826.3 1569.5,822.7 1566.6,826.3 1552.2,826.3"/>
<polygon points="1550.1,829.9 1581.0,829.9 1579.5,835.3 1548.6,835.3"/>
<polygon points="1559.4,835.3 1569.5,835.3 1567.3,847.2 1557.3,847.2"/>
<polygon points="1525.6,845.7 1577.0,845.7 1575.2,851.8 1523.9,851.8"/>
</g></g>
<text transform="translate(1356.3,885.6) scale(1.1,1)" font-size="32" font-weight="bold" font-style="italic" fill="#7d9bf5" stroke="#7d9bf5" stroke-width="0.8">z</text>
<text transform="translate(1383.3,885.6) scale(1.1,1)" font-size="32" font-weight="bold" font-style="italic" fill="#7d9bf5" stroke="#7d9bf5" stroke-width="0.8">z</text>
<text transform="translate(1410.1,885.6) scale(1.1,1)" font-size="32" font-weight="bold" font-style="italic" fill="#7d9bf5" stroke="#7d9bf5" stroke-width="0.8">r</text>
<text transform="translate(1431.2,885.6) scale(1.1,1)" font-size="32" font-weight="bold" font-style="italic" fill="#7d9bf5" stroke="#7d9bf5" stroke-width="0.8">t</text>
<text transform="translate(1454.1,885.6) scale(1.1,1)" font-size="32" font-weight="bold" font-style="italic" fill="#7d9bf5" stroke="#7d9bf5" stroke-width="0.8">0</text>
<text transform="translate(1483.7,885.6) scale(1.1,1)" font-size="32" font-weight="bold" font-style="italic" fill="#7d9bf5" stroke="#7d9bf5" stroke-width="0.8">1</text>
<text transform="translate(1512.3,885.6) scale(1.1,1)" font-size="32" font-weight="bold" font-style="italic" fill="#7d9bf5" stroke="#7d9bf5" stroke-width="0.8">.</text>
<text transform="translate(1531.8,885.6) scale(1.1,1)" font-size="32" font-weight="bold" font-style="italic" fill="#7d9bf5" stroke="#7d9bf5" stroke-width="0.8">c</text>
<text transform="translate(1558.1,885.6) scale(1.1,1)" font-size="32" font-weight="bold" font-style="italic" fill="#7d9bf5" stroke="#7d9bf5" stroke-width="0.8">n</text>
</svg>
</body></html>
